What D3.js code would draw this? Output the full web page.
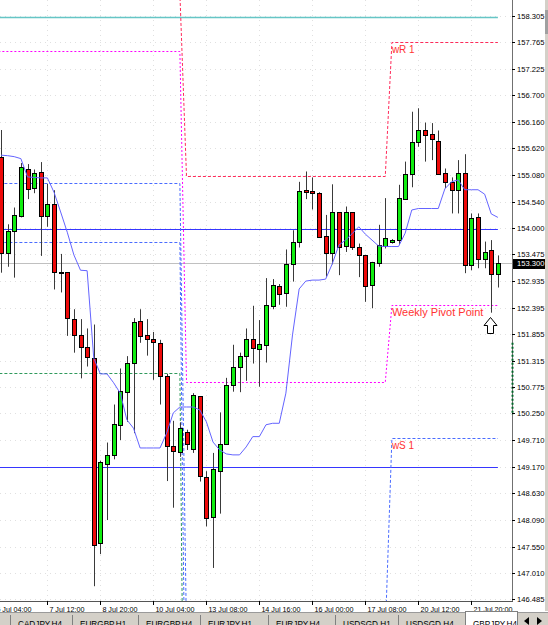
<!DOCTYPE html>
<html>
<head>
<meta charset="utf-8">
<script src="https://cdn.jsdelivr.net/npm/d3@7"></script>
<style>
  body { margin: 0; background: #fff; overflow: hidden; }
  text { font-family: "Liberation Sans", Arial, sans-serif; }
</style>
</head>
<body>
<svg id="chart" width="548" height="625"></svg>
<script>
// GBPJPY H4 candles (bar 0 = 6 Jul 08:00)
const opens = [155.44,153.50,153.94,154.25,155.21,154.81,155.13,154.24,154.49,153.11,
  153.11,152.16,151.84,151.59,151.38,147.62,149.23,149.41,150.01,150.70,
  151.28,152.12,151.84,151.76,151.68,151.01,149.58,149.47,149.88,149.52,
  150.60,148.97,148.14,149.09,149.63,150.83,151.18,151.40,151.75,151.55,
  151.64,152.43,152.84,152.68,153.27,153.72,154.78,154.76,154.72,153.84,
  153.49,154.32,153.63,154.32,153.63,153.46,152.84,153.30,153.65,153.72,
  153.76,154.59,155.10,155.74,155.98,155.90,155.77,155.11,154.93,154.76,
  155.11,153.24,154.22,153.38,153.55,153.07];
const highs = [155.99,154.08,154.42,155.32,155.30,155.19,155.34,154.90,154.77,153.48,
  153.11,152.36,152.16,151.97,152.05,149.29,149.66,150.43,151.16,151.41,
  152.18,152.36,152.16,151.90,151.74,151.05,150.10,150.07,149.92,150.66,
  150.60,149.08,149.45,150.27,150.97,151.64,151.48,151.97,152.43,152.14,
  152.99,152.97,152.87,153.57,153.96,154.94,155.15,155.03,154.73,154.27,
  154.89,154.32,154.44,154.32,153.69,153.46,153.32,154.07,154.61,153.78,
  154.88,155.35,156.36,156.43,156.14,156.13,155.98,155.21,155.03,155.38,
  155.50,154.30,154.30,153.73,153.76,153.45];
const lows = [153.10,153.22,153.00,154.22,154.59,154.71,153.44,154.03,152.76,152.70,
  151.82,151.48,150.96,151.20,146.75,147.40,148.09,149.32,149.71,150.08,
  149.85,151.68,151.42,150.93,150.43,148.88,148.34,149.37,149.51,149.45,
  148.87,147.96,147.12,148.22,149.63,150.69,150.68,150.91,151.26,150.79,
  151.28,152.36,152.45,152.41,152.92,153.61,154.59,154.38,153.82,153.02,
  153.27,153.05,153.52,153.56,153.01,152.51,152.38,153.22,153.59,153.69,
  153.66,154.59,154.83,155.65,155.35,155.38,155.11,154.81,154.30,154.30,
  153.09,153.15,153.19,153.19,152.29,152.80];
const closes = [153.50,153.94,154.27,155.25,154.81,155.11,154.24,154.49,153.11,153.10,
  152.18,151.84,151.59,151.38,147.60,149.26,149.41,150.03,150.70,151.28,
  152.11,151.82,151.76,151.69,151.01,149.60,149.47,149.95,149.63,150.62,
  148.97,148.14,149.12,149.64,150.83,151.20,151.41,151.75,151.57,151.65,
  152.45,152.85,152.68,153.27,153.72,154.76,154.73,154.71,153.83,153.49,
  154.32,153.61,154.32,153.61,153.46,152.84,153.31,153.66,153.81,153.76,
  154.61,155.10,155.74,155.99,155.88,155.79,155.11,154.93,154.76,155.11,
  153.24,154.20,153.36,153.52,153.07,153.30];

// blue indicator line, one value per bar
const maValues = [155.48,155.47,155.45,155.41,155.04,155.03,155.02,155.02,154.73,154.33,
  153.92,153.46,153.15,153.14,151.37,151.05,151.05,150.87,150.66,150.12,
  149.95,149.55,149.55,149.55,149.55,149.85,150.26,150.38,150.38,150.38,
  150.32,150.08,149.67,149.51,149.43,149.41,149.41,149.57,149.78,149.78,
  150.02,150.05,150.05,150.66,151.84,152.77,152.93,152.95,152.95,152.97,
  153.28,153.66,153.76,153.89,154.03,153.88,153.76,153.64,153.63,153.63,
  153.63,153.90,154.37,154.40,154.40,154.40,154.40,154.80,154.94,154.98,
  154.78,154.78,154.78,154.69,154.29,154.22];

// weekly pivot levels (one value per week)
const weekFirstBar = [-1, 28, 59];
const weekLastBar = [27, 58, 75];
const wR1 = [158.77, 155.06, 157.77];
const pivotPoint = [157.58, 150.89, 152.45];
const wS1 = [154.92, 145.81, 149.75];
const wS2 = [153.73, 141.67, 144.43];
const wS3 = [151.06, 137.50, 135.00];

const levelLines = [158.27, 153.98, 149.17];
const bidPrice = 153.30;
const axisMark = [151.68, 150.22];

const priceTicks = ["158.305","157.765","157.225","156.700","156.160","155.620","155.080",
  "154.540","154.000","153.475","152.935","152.395","151.855","151.315","150.775",
  "150.250","149.710","149.170","148.630","148.090","147.550","147.010","146.485"];
const timeTickBars = [-1, 7, 15, 23, 31, 39, 47, 55, 63, 71];
const timeLabels = ["6 Jul 04:00","7 Jul 12:00","8 Jul 20:00","10 Jul 04:00","13 Jul 08:00",
  "14 Jul 16:00","16 Jul 00:00","17 Jul 08:00","20 Jul 12:00","21 Jul 20:00"];
const tabNames = ["CADJPY,H4","EURGBP,H1","EURGBP,H4","EURJPY,H1","EURJPY,H4",
  "USDSGD,H1","USDSGD,H4","GBPJPY,H4"];

let layout = {"width": 548, "height": 625, "plotRight": 512, "plotBottom": 601};
const tabEdges = [10, 72, 138, 200, 268, 335, 398, 465, 517];

let svg = d3.select("#chart");

let x = d3.scaleLinear().domain([0, 75]).range([1, 497.9]);
let y = d3.scaleLinear().domain([146.485, 158.305]).range([599.3, 15.7]);
let py = v => Math.round(y(v)) + 0.5;   // pixel-snapped y for crisp 1px lines

svg.append("rect").attr("width", layout.width).attr("height", layout.height).attr("fill", "#fff");

svg.append("clipPath").attr("id", "plot")
   .append("rect").attr("x", 0).attr("y", 0)
   .attr("width", layout.plotRight).attr("height", layout.plotBottom);

let plot = svg.append("g").attr("clip-path", "url(#plot)");

// faint dotted grid
plot.selectAll(".hgrid").data(priceTicks).join("line")
    .attr("class", "hgrid")
    .attr("x1", 0).attr("x2", layout.plotRight)
    .attr("y1", d => py(+d)).attr("y2", d => py(+d))
    .attr("stroke", "#e0e0e0").attr("stroke-dasharray", "1,4");
plot.selectAll(".vgrid").data(timeTickBars).join("line")
    .attr("class", "vgrid")
    .attr("x1", d => Math.round(x(d)) + 0.5).attr("x2", d => Math.round(x(d)) + 0.5)
    .attr("y1", 0).attr("y2", layout.plotBottom)
    .attr("stroke", "#e0e0e0").attr("stroke-dasharray", "1,4");

// bid line
plot.append("line")
    .attr("x1", 0).attr("x2", layout.plotRight)
    .attr("y1", py(bidPrice)).attr("y2", py(bidPrice))
    .attr("stroke", "#c0c0c0");

// solid horizontal levels
const levelColors = ["#66c6c6", "#3636ff", "#3636ff"];
plot.selectAll(".level").data(levelLines).join("line")
    .attr("class", "level")
    .attr("x1", 0).attr("x2", x(75))
    .attr("y1", d => py(d)).attr("y2", d => py(d))
    .attr("stroke", (d, i) => levelColors[i])
    .attr("stroke-width", (d, i) => i == 0 ? 1.5 : 1);

// weekly pivot step lines
function stepPoints(vals) {
  let pts = [];
  vals.forEach((v, w) => {
    pts.push([x(weekFirstBar[w]), py(v)]);
    pts.push([x(weekLastBar[w]), py(v)]);
  });
  return pts;
}
const pivotSeries = [
  {vals: wS3, color: "#2f9a5c", dash: "3,2"},
  {vals: wS2, color: "#4a6cff", dash: "3,2"},
  {vals: wS1, color: "#4a6cff", dash: "3,2"},
  {vals: pivotPoint, color: "#ff00ff", dash: "2,2"},
  {vals: wR1, color: "#ff2a5a", dash: "3,2"}
];
plot.selectAll(".pivot").data(pivotSeries).join("path")
    .attr("class", "pivot")
    .attr("d", d => d3.line()(stepPoints(d.vals)))
    .attr("fill", "none")
    .attr("stroke", d => d.color)
    .attr("stroke-dasharray", d => d.dash);

// labels on the current week
const bars = d3.range(opens.length);
let lx = x(weekFirstBar[2]);
plot.append("text").attr("x", lx).attr("y", y(wR1[2]) + 11)
    .attr("font-size", 10).attr("fill", "#ff3333").text("wR 1");
plot.append("text").attr("x", lx).attr("y", y(pivotPoint[2]) + 11)
    .attr("font-size", 11).attr("fill", "#ff3333").text("Weekly Pivot Point");
plot.append("text").attr("x", lx).attr("y", y(wS1[2]) + 11)
    .attr("font-size", 10).attr("fill", "#ff3333").text("wS 1");

// candles
let cx = i => Math.round(x(i) - 2) + 2.5;
plot.selectAll(".wick").data(bars).join("line")
    .attr("class", "wick")
    .attr("x1", cx).attr("x2", cx)
    .attr("y1", i => y(highs[i])).attr("y2", i => y(lows[i]))
    .attr("stroke", "#3a3a3a").attr("stroke-width", 1);
plot.selectAll(".body").data(bars).join("rect")
    .attr("class", "body")
    .attr("x", i => cx(i) - 2)
    .attr("y", i => py(Math.max(opens[i], closes[i])))
    .attr("width", 4)
    .attr("height", i => Math.max(1, Math.round(Math.abs(y(opens[i]) - y(closes[i])))))
    .attr("fill", i => closes[i] >= opens[i] ? "#10ee10" : "#ee0a0a")
    .attr("stroke", "#000").attr("stroke-width", 1);

// blue indicator
plot.append("path")
    .attr("d", d3.line().x((d, i) => x(i)).y(d => y(d))(maValues))
    .attr("fill", "none").attr("stroke", "#6464ff").attr("stroke-width", 1);

// arrow under the last swing low
plot.append("path")
    .attr("transform", `translate(${cx(74) - 1}, ${Math.round(y(lows[74])) + 4.5})`)
    .attr("d", "M0,0 L6.5,8 L3,8 L3,16 L-3,16 L-3,8 L-6.5,8 Z")
    .attr("fill", "#fff").attr("stroke", "#000").attr("stroke-width", 1);

// price axis
let axis = svg.append("g");
axis.append("line").attr("x1", layout.plotRight + 0.5).attr("x2", layout.plotRight + 0.5)
    .attr("y1", 0).attr("y2", layout.plotBottom).attr("stroke", "#707070");
axis.append("line").attr("x1", layout.plotRight + 0.5).attr("x2", layout.plotRight + 0.5)
    .attr("y1", y(axisMark[0])).attr("y2", y(axisMark[1]))
    .attr("stroke", "#006a2a").attr("stroke-width", 2).attr("stroke-dasharray", "2,2");
axis.selectAll(".ptick").data(priceTicks).join("line")
    .attr("class", "ptick")
    .attr("x1", layout.plotRight).attr("x2", layout.plotRight + 3)
    .attr("y1", d => py(+d)).attr("y2", d => py(+d))
    .attr("stroke", "#000");
axis.selectAll(".plabel").data(priceTicks).join("text")
    .attr("class", "plabel")
    .attr("x", layout.plotRight + 5).attr("y", d => y(+d) + 3)
    .attr("font-size", 7.6).attr("fill", "#000").text(d => d);

axis.append("rect").attr("x", layout.plotRight + 1).attr("y", Math.round(y(bidPrice)) - 4)
    .attr("width", 34).attr("height", 10).attr("fill", "#000");
axis.append("text").attr("x", layout.plotRight + 5).attr("y", y(bidPrice) + 3)
    .attr("font-size", 7.6).attr("fill", "#fff").text(bidPrice.toFixed(3));

axis.append("rect").attr("x", 545).attr("y", 0).attr("width", 3).attr("height", layout.plotBottom + 10)
    .attr("fill", "#d4d0c8");
axis.append("rect").attr("x", 545).attr("y", 10).attr("width", 3).attr("height", 24)
    .attr("fill", "#a0a0a0");

// time axis
axis.append("line").attr("x1", 0).attr("x2", layout.plotRight + 1)
    .attr("y1", layout.plotBottom + 0.5).attr("y2", layout.plotBottom + 0.5).attr("stroke", "#555");
axis.selectAll(".ttick").data(timeTickBars).join("line")
    .attr("class", "ttick")
    .attr("x1", d => Math.round(x(d)) + 0.5).attr("x2", d => Math.round(x(d)) + 0.5)
    .attr("y1", layout.plotBottom).attr("y2", layout.plotBottom + 4)
    .attr("stroke", "#000");
axis.selectAll(".tlabel").data(timeTickBars).join("text")
    .attr("class", "tlabel")
    .attr("x", d => x(d) + 2).attr("y", layout.plotBottom + 10.5)
    .attr("font-size", 7.2).attr("fill", "#000")
    .text((d, i) => timeLabels[i]);

// symbol tabs at the bottom
let tabs = svg.append("g");
tabs.append("rect").attr("x", 0).attr("y", 612).attr("width", layout.width).attr("height", 13)
    .attr("fill", "#d4d0c8");
tabs.append("line").attr("x1", 0).attr("x2", layout.width).attr("y1", 612.5).attr("y2", 612.5)
    .attr("stroke", "#9a9a9a");
tabs.append("rect").attr("x", tabEdges[7] + 0.5).attr("y", 611.5)
    .attr("width", tabEdges[8] - tabEdges[7]).attr("height", 15)
    .attr("fill", "#fff").attr("stroke", "#808080");
tabs.selectAll(".sep").data(tabEdges.slice(0, 7)).join("line")
    .attr("class", "sep")
    .attr("x1", d => d + 0.5).attr("x2", d => d + 0.5)
    .attr("y1", 615).attr("y2", 625).attr("stroke", "#808080");
tabs.selectAll(".tab").data(tabNames).join("text")
    .attr("class", "tab")
    .attr("x", (d, i) => tabEdges[i] + 8).attr("y", 626.5)
    .attr("font-size", 8.2).attr("fill", "#000").text(d => d);
tabs.append("path").attr("d", "M524,621 L529,617 L529,625 Z").attr("fill", "#000");
tabs.append("path").attr("d", "M542,621 L537,617 L537,625 Z").attr("fill", "#000");
</script>
</body>
</html>
